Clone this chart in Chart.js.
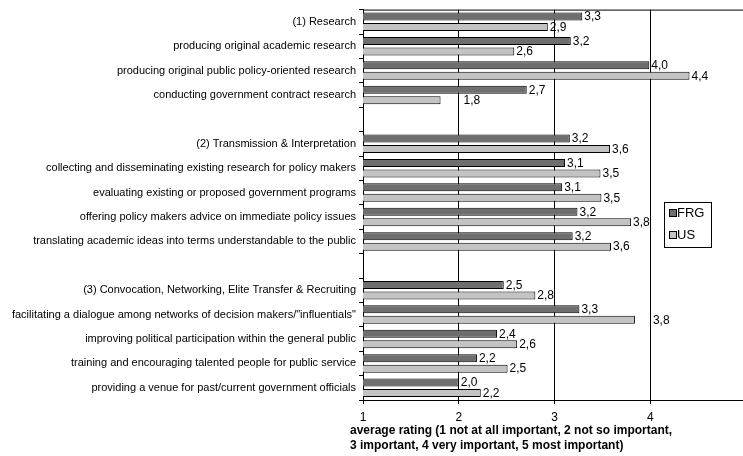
<!DOCTYPE html>
<html>
<head>
<meta charset="utf-8">
<script src="https://cdn.jsdelivr.net/npm/chart.js@4/dist/chart.umd.min.js"></script>
<style>
    html, body { margin: 0; padding: 0; background: #ffffff; overflow: hidden; }
    #wrap { width: 743px; height: 456px; overflow: hidden; position: relative; }
    canvas { display: block; }
</style>
</head>
<body>
<div id="wrap">
    <canvas id="chart" width="752" height="456"></canvas>
</div>
<script>
// Categories (empty strings are the gaps between the three groups)
const categories = [
    '(1) Research',
    'producing original academic research',
    'producing original public policy-oriented research',
    'conducting government contract research',
    '',
    '(2) Transmission & Interpretation',
    'collecting and disseminating existing research for policy makers',
    'evaluating existing or proposed government programs',
    'offering policy makers advice on immediate policy issues',
    'translating academic ideas into terms understandable to the public',
    '',
    '(3) Convocation, Networking, Elite Transfer & Recruiting',
    'facilitating a dialogue among networks of decision makers/"influentials"',
    'improving political participation within the general public',
    'training and encouraging talented people for public service',
    'providing a venue for past/current government officials'
];

const frgValues = [3.29, 3.17, 3.99, 2.71, null, 3.16, 3.11, 3.08, 3.24, 3.19, null, 2.47, 3.26, 2.40, 2.19, 2.00];
const usValues  = [2.93, 2.58, 4.41, 1.81, null, 3.58, 3.48, 3.49, 3.80, 3.59, null, 2.80, 3.84, 2.61, 2.51, 2.23];

const seriesNames = ['FRG', 'US'];
const seriesColors = ['#6e6e6e', '#c3c3c3'];

const xTicks = [1, 2, 3, 4, 5];
const axisTitle = [
    'average rating (1 not at all important, 2 not so important,',
    '3 important, 4 very important, 5 most important)'
];

const FONT = '"Liberation Sans", Arial, sans-serif';

// a couple of labels were moved by hand in the original
const labelNudge = { '1-3': 21, '1-12': 16 };

function fmt(v) {
    return v.toFixed(1).replace('.', ',');
}

const valueLabels = {
    id: 'valueLabels',
    afterDatasetsDraw(chart) {
        const ctx = chart.ctx;
        ctx.save();
        ctx.font = '12px ' + FONT;
        ctx.fillStyle = '#000000';
        ctx.textAlign = 'left';
        ctx.textBaseline = 'middle';
        chart.data.datasets.forEach((ds, di) => {
            const meta = chart.getDatasetMeta(di);
            meta.data.forEach((bar, i) => {
                const v = ds.data[i];
                if (v === null || v === undefined) return;
                const dx = labelNudge[di + '-' + i] || 0;
                ctx.fillText(fmt(v), bar.x + 2 + dx, bar.y + 0.5);
            });
        });
        ctx.restore();
    }
};

const frame = {
    id: 'frame',
    afterDraw(chart) {
        const ctx = chart.ctx;
        const a = chart.chartArea;
        ctx.save();
        // top border of the plot
        ctx.strokeStyle = '#000000';
        ctx.lineWidth = 1;
        ctx.beginPath();
        ctx.moveTo(a.left, a.top + 0.5);
        ctx.lineTo(a.right, a.top + 0.5);
        ctx.stroke();

        // axis title, left aligned
        ctx.font = 'bold 12px ' + FONT;
        ctx.fillStyle = '#000000';
        ctx.textAlign = 'left';
        ctx.textBaseline = 'middle';
        axisTitle.forEach((line, k) => {
            ctx.fillText(line, 350, 431 + k * 15);
        });

        // legend box
        const lx = 664.5, ly = 202.5;
        ctx.strokeRect(lx, ly, 47, 45);
        ctx.font = '13px ' + FONT;
        seriesNames.forEach((name, k) => {
            const y = 213 + k * 22;
            ctx.fillStyle = seriesColors[k];
            ctx.fillRect(669, y - 3, 7, 7);
            ctx.strokeRect(669.5, y - 3.5, 7, 7);
            ctx.fillStyle = '#000000';
            ctx.fillText(name, 677, y + 0.5);
        });
        ctx.restore();
    }
};

const ctx = document.getElementById('chart').getContext('2d');

new Chart(ctx, {
    type: 'bar',
    data: {
        labels: categories,
        datasets: [
            {
                label: seriesNames[0],
                data: frgValues,
                backgroundColor: seriesColors[0],
                borderColor: '#000000',
                borderWidth: 1,
                borderSkipped: false,
                categoryPercentage: 0.86,
                barPercentage: 0.76
            },
            {
                label: seriesNames[1],
                data: usValues,
                backgroundColor: seriesColors[1],
                borderColor: '#000000',
                borderWidth: 1,
                borderSkipped: false,
                categoryPercentage: 0.86,
                barPercentage: 0.76
            }
        ]
    },
    options: {
        responsive: false,
        animation: false,
        indexAxis: 'y',
        layout: {
            padding: { top: 7, right: 5, left: 0, bottom: 0 }
        },
        scales: {
            x: {
                type: 'linear',
                min: xTicks[0],
                max: xTicks[xTicks.length - 1],
                afterBuildTicks: scale => {
                    scale.ticks = xTicks.map(v => ({ value: v }));
                },
                afterFit: scale => { scale.height = 56; },
                grid: {
                    color: '#000000',
                    lineWidth: 1,
                    drawTicks: true,
                    tickLength: 4
                },
                border: { display: true, color: '#000000', width: 1 },
                ticks: {
                    color: '#000000',
                    font: { family: FONT, size: 12 },
                    padding: 6,
                    maxRotation: 0,
                    callback: v => (v === 5 ? '' : String(v))
                }
            },
            y: {
                type: 'category',
                afterFit: scale => { scale.width = 363; },
                grid: {
                    drawOnChartArea: false,
                    drawTicks: true,
                    tickLength: 4,
                    color: '#000000',
                    offset: true
                },
                border: { display: true, color: '#000000', width: 1 },
                ticks: {
                    color: '#000000',
                    font: { family: FONT, size: 11 },
                    padding: 3,
                    autoSkip: false
                }
            }
        },
        plugins: {
            legend: { display: false },
            tooltip: { enabled: false },
            title: { display: false }
        }
    },
    plugins: [valueLabels, frame]
});
</script>
</body>
</html>
